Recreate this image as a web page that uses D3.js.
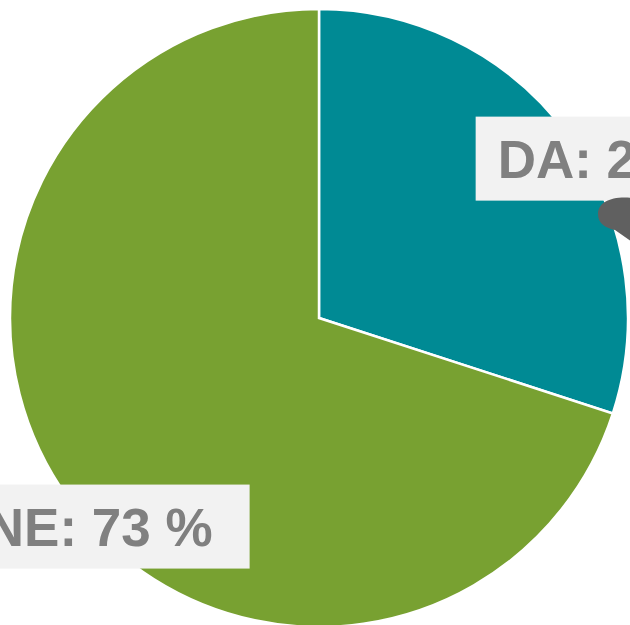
<!DOCTYPE html>
<html>
<head>
<meta charset="utf-8">
<script src="https://cdn.jsdelivr.net/npm/d3@7"></script>
<style>
  html, body { margin: 0; padding: 0; background: #fff; overflow: hidden; }
</style>
</head>
<body>
<div id="chartDiv"></div>
<script>
var width = 630;
var height = 625;

// slices, clockwise from 12 o'clock
var categories = ["DA", "NE"];
var sliceValues = [30, 70];           // share of the circle as drawn
var labelPercents = [27, 73];         // percentages printed in the labels
var colors = ["#008a94", "#78a131"];

var cx = 319, cy = 318, radius = 309;

// label placement (angle in degrees clockwise from top, distance from centre)
var labelAngle = [61.5, 226.5];
var labelDist = [334, 303];

var svg = d3.select("#chartDiv")
    .append("svg")
    .attr("width", width)
    .attr("height", height)
    .style("font-family", "'Liberation Sans', Arial, sans-serif");

var g = svg.append("g")
    .attr("transform", `translate(${cx},${cy})`);

var pie = d3.pie().sort(null).value(d => d.value);
var arcs = pie(categories.map((c, i) => ({name: c, value: sliceValues[i], pct: labelPercents[i]})));

var arc = d3.arc()
    .innerRadius(0)
    .outerRadius(radius);

g.selectAll("path.slice")
  .data(arcs)
  .join("path")
    .attr("class", "slice")
    .attr("d", arc)
    .attr("fill", (d, i) => colors[i])
    .attr("stroke", "#fff")
    .attr("stroke-width", 2.5)
    .attr("stroke-linejoin", "miter");

// dark pointer blob next to the DA label
svg.append("path")
    .attr("d", "M632,198 C612,196 598,202 598,214 C598,224 606,228 615,230 L632,242 Z")
    .attr("fill", "#606060");

var fontSize = 53;
var padL = 22, padR = 37, boxH = 84;

var label = g.selectAll("g.lbl")
  .data(arcs)
  .join("g")
    .attr("class", "lbl")
    .attr("transform", (d, i) => {
        var a = labelAngle[i] * Math.PI / 180;
        return `translate(${Math.sin(a) * labelDist[i]},${-Math.cos(a) * labelDist[i]})`;
    });

label.append("rect")
    .attr("fill", "#f2f2f2");

label.append("text")
    .attr("text-anchor", "middle")
    .attr("dy", "0.36em")
    .attr("font-size", fontSize)
    .attr("font-weight", "bold")
    .attr("fill", "#808080")
    .text(d => `${d.data.name}: ${d.data.pct} %`);

label.each(function() {
    var t = d3.select(this).select("text").node().getComputedTextLength();
    d3.select(this).select("rect")
        .attr("x", -t / 2 - padL)
        .attr("y", -boxH / 2)
        .attr("width", t + padL + padR)
        .attr("height", boxH);
});
</script>
</body>
</html>
